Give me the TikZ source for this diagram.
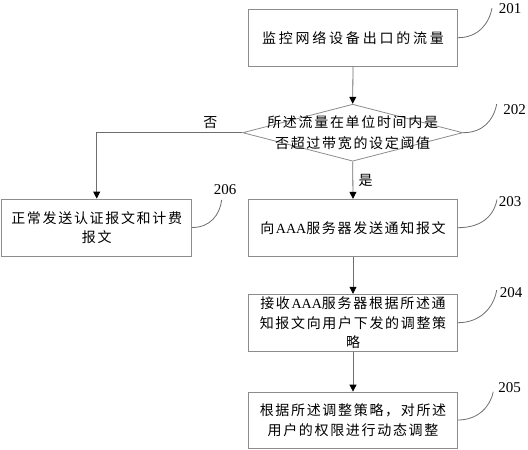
\documentclass[tikz,border=0pt]{standalone}
\usepackage{fontspec}
\usepackage{xcolor}
\usepackage{tikz}
\usetikzlibrary{shapes.geometric,arrows.meta}
\setmainfont{Liberation Serif}
\newfontfamily\cjk[LetterSpace=12]{Noto Sans CJK SC}
\newfontfamily\cjkwide[LetterSpace=20]{Noto Sans CJK SC}
\definecolor{edge}{HTML}{8C8C8C}
\definecolor{wire}{HTML}{6E6E6E}
\definecolor{ink}{HTML}{000000}
\tikzset{
  box/.style={draw=edge, line width=0.8pt, minimum width=209pt, minimum height=57pt, inner sep=0pt, align=center, text=ink, font=\cjk\fontsize{14}{19.5}\selectfont},
  dia/.style={draw=edge, line width=0.8pt, diamond, minimum width=220pt, minimum height=57pt, inner sep=0pt},
  arr/.style={draw=wire, line width=0.8pt, -{Triangle[length=7pt,width=7pt,color=ink]}},
  lead/.style={draw=wire, line width=0.8pt},
  num/.style={text=ink, font=\fontsize{15}{18}\selectfont, inner sep=0pt},
  lab/.style={text=ink, font=\cjk\fontsize{14}{18}\selectfont},
}

\begin{document}
\begin{tikzpicture}[x=1pt,y=-1pt]
  \useasboundingbox (0,0) rectangle (528,450);
  \node[box] (b201) at (353,37.7) {\cjkwide 监控网络设备出口的流量};
  \node[dia, label={[lab, align=center, font=\cjk\fontsize{14}{20.5}\selectfont]center:所述流量在单位时间内是\\否超过带宽的设定阈值}] (d202) at (352.7,132.7) {};
  \node[box] (b203) at (353,227.7) {向\textrm{AAA}服务器发送通知报文};
  \node[box] (b204) at (353,322.7) {接收\textrm{AAA}服务器根据所述通\\知报文向用户下发的调整策\\略};
  \node[box, minimum height=56pt] (b205) at (353,420) {根据所述调整策略，对所述\\用户的权限进行动态调整};
  \node[box, minimum width=190pt] (b206) at (96.7,227.5) {正常发送认证报文和计费\\报文};

  \draw[arr] (b201.south) -- (d202.north);
  \draw[arr] (d202.south) -- node[lab, right, xshift=2pt] (yes) {是} (b203.north);
  \draw[arr] (d202.west) -| node[lab, above, pos=0.11] (no) {否} (b206.north);
  \draw[arr] (b203.south) -- (b204.north);
  \draw[arr] (b204.south) -- (b205.north);

  \node[num] (l201) at (510,8.5) {201};
  \node[num] (l202) at (514.5,110) {202};
  \node[num] (l203) at (510,202) {203};
  \node[num] (l204) at (511,293) {204};
  \node[num] (l205) at (509.7,388) {205};
  \node[num] (l206) at (225,190) {206};
  \coordinate (e201) at (492,8);
  \coordinate (e202) at (496.7,104);
  \coordinate (e203) at (497,199.5);
  \coordinate (e204) at (496.7,290);
  \coordinate (e205) at (493.3,391.7);
  \coordinate (e206) at (221.7,200);
  \draw[lead] (b201.east) .. controls +(20,0) and +(-3,16) .. (e201);
  \draw[lead] (d202.east) .. controls +(20,0) and +(-3,16) .. (e202);
  \draw[lead] (b203.east) .. controls +(24,0) and +(-3,16) .. (e203);
  \draw[lead] (b204.east) .. controls +(22,0) and +(-3,18) .. (e204);
  \draw[lead] (b205.east) .. controls +(20,0) and +(-3,15) .. (e205);
  \draw[lead] (b206.east) .. controls +(18,0) and +(-2,15) .. (e206);
\end{tikzpicture}
\end{document}
